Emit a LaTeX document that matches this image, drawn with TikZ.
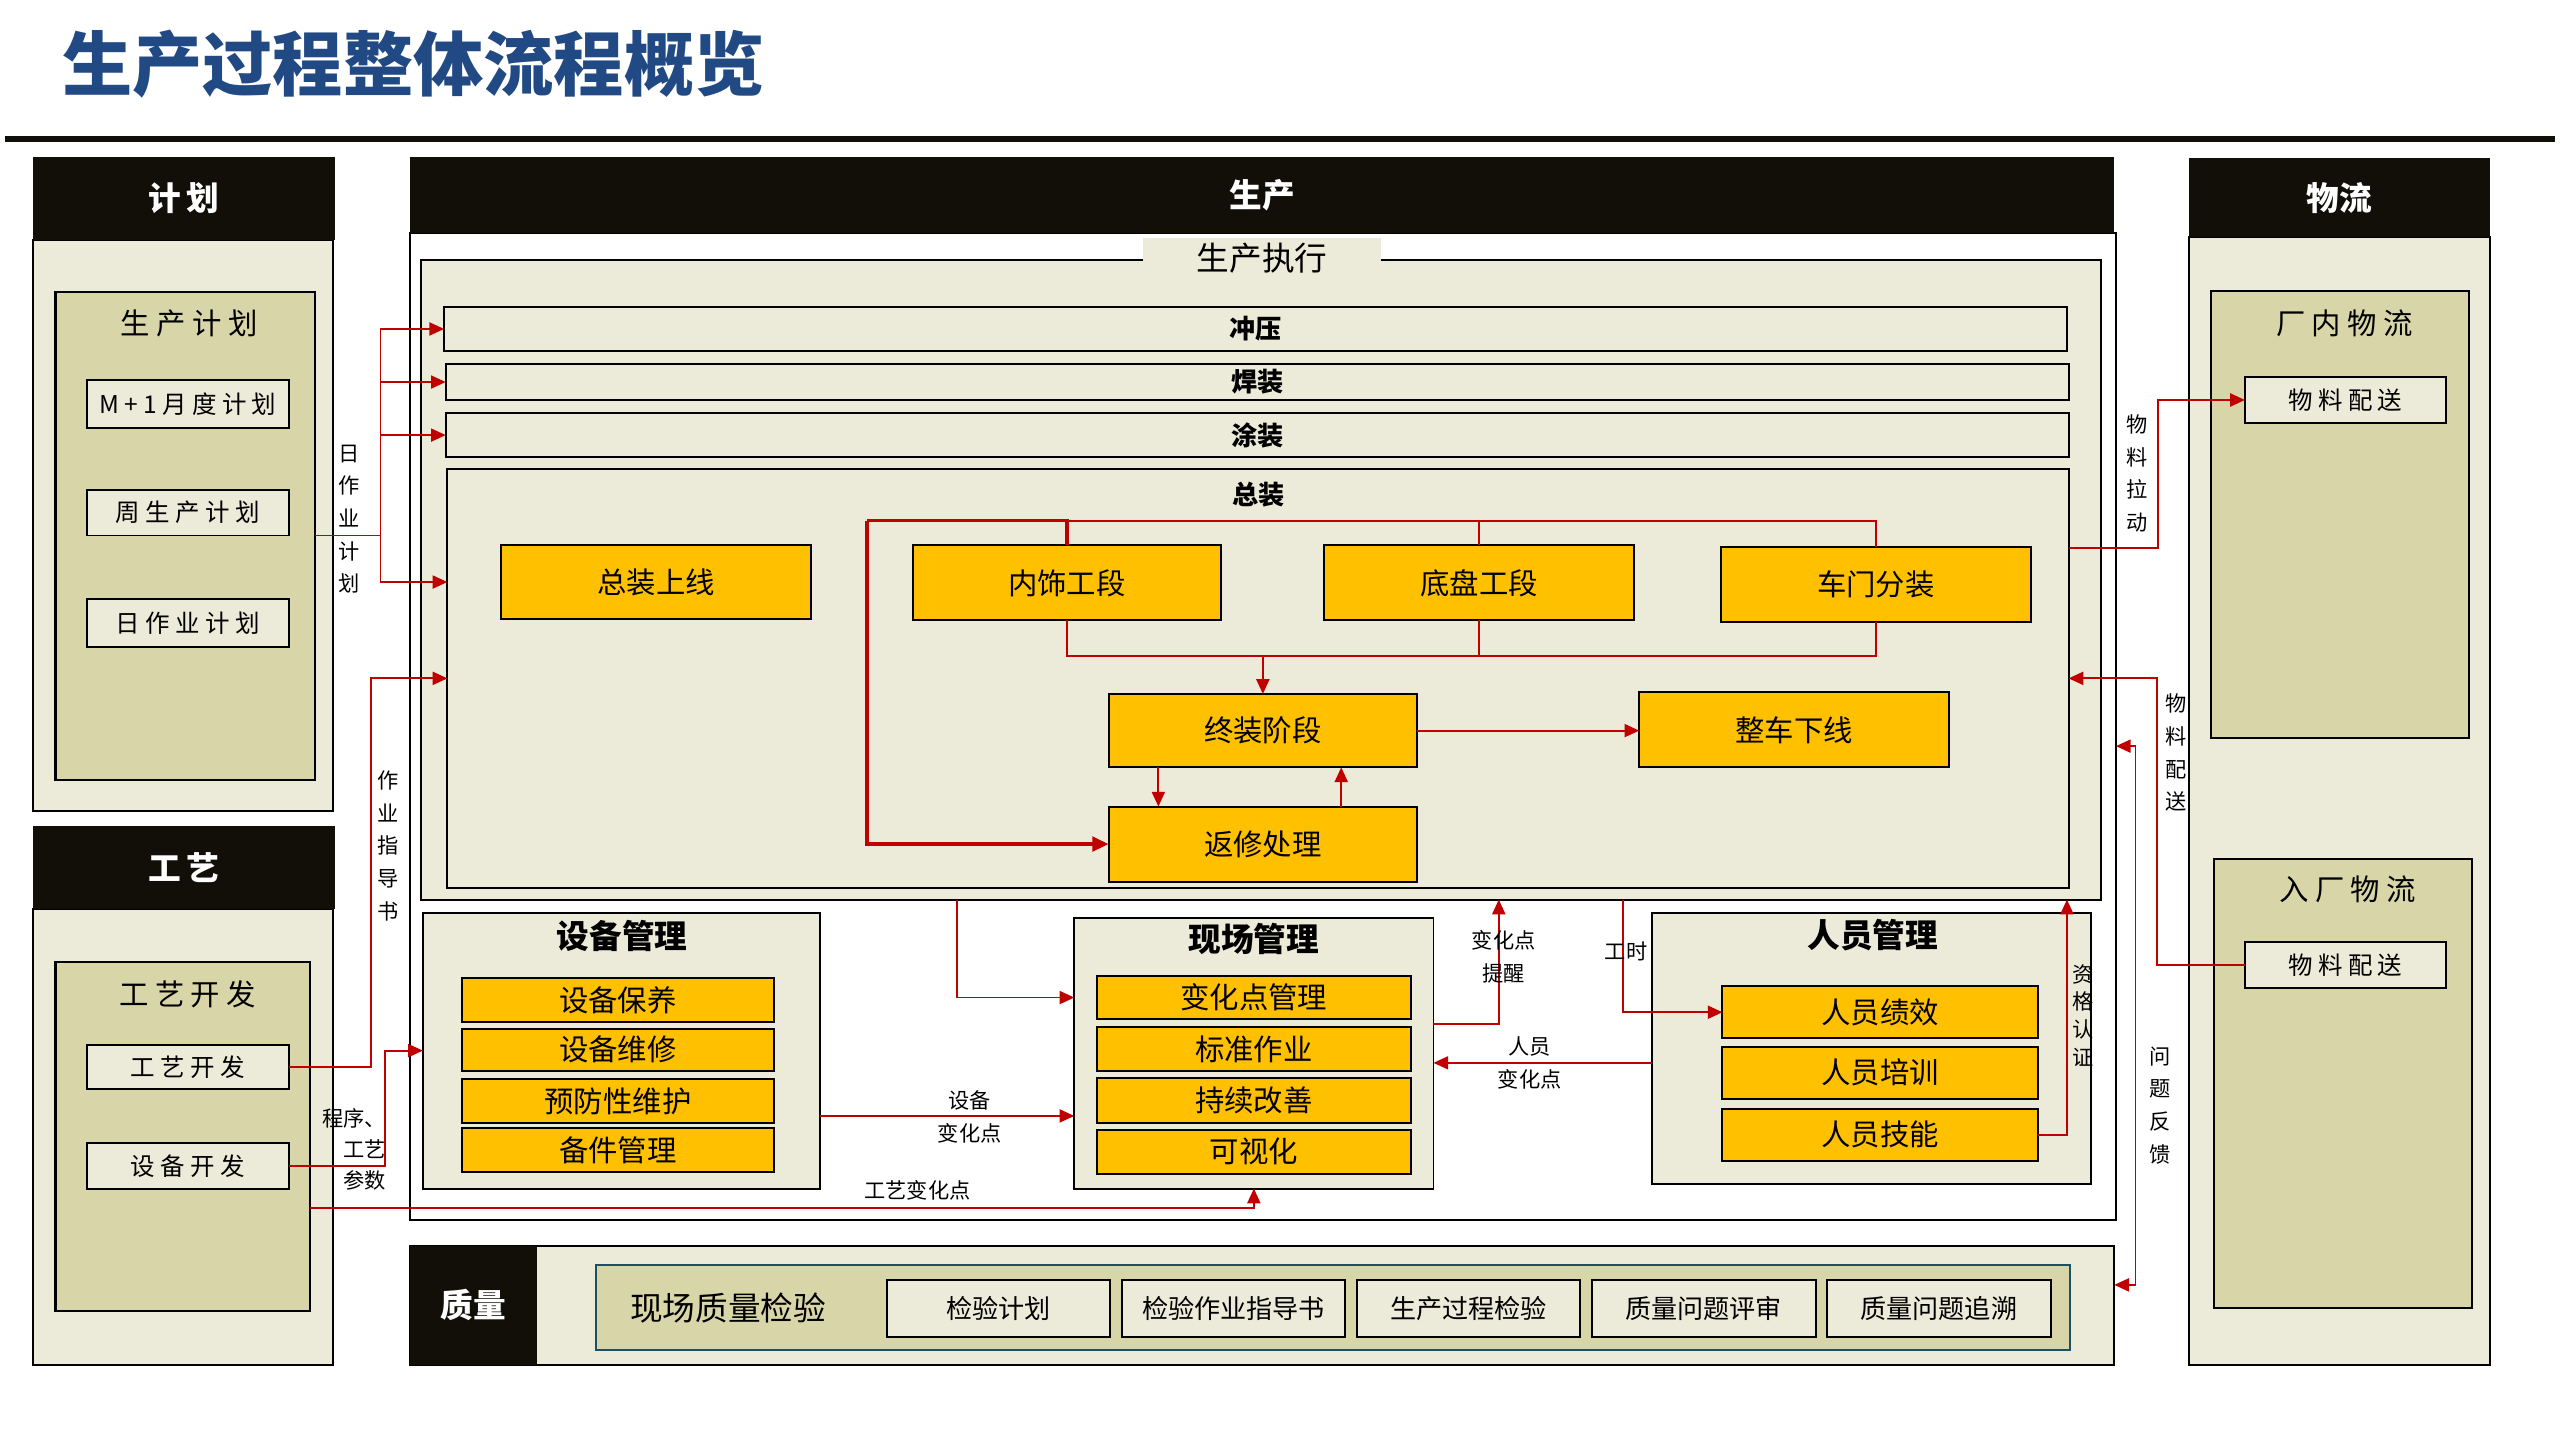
\documentclass[tikz,border=0pt]{standalone}
\usepackage{fontspec}
\newfontfamily\cjk{Noto Sans CJK SC}
\newfontfamily\cjksp[LetterSpace=22]{Noto Sans CJK SC}
\usetikzlibrary{arrows.meta,calc}
\definecolor{beige}{RGB}{236,234,216}
\definecolor{khaki}{RGB}{216,214,168}
\definecolor{hdr}{RGB}{17,15,8}
\definecolor{ylw}{RGB}{255,192,0}
\definecolor{rd}{RGB}{192,0,0}
\definecolor{ttl}{RGB}{33,74,132}
\definecolor{tealb}{RGB}{30,80,95}
\newcommand\fs[1]{\fontsize{#1}{#1}\selectfont}
\newcommand\bx[7]{\node[#2,anchor=north west,minimum width={(#5-(#3))*1pt},minimum height={(#6-(#4))*1pt},inner sep=0pt,outer sep=0pt] (#1) at (#3,#4) {#7};}
\tikzset{
 body/.style={draw=black,fill=beige,line width=1.3pt},
 hd/.style={fill=hdr,text=white,font=\cjk\bfseries\fs{20}},
 inbox/.style={draw=black,fill=khaki,line width=1.3pt},
 ttxt/.style={font=\cjksp\fs{18},inner sep=0pt},
 item/.style={draw=black,fill=beige,line width=1.2pt,font=\cjksp\fs{15}},
 qitem/.style={draw=black,fill=beige,line width=1.2pt,font=\cjk\fs{16}},
 bar/.style={draw=black,fill=beige,line width=1.3pt,font=\cjk\bfseries\fs{16}},
 yb/.style={draw=black,fill=ylw,line width=1.2pt,font=\cjk\fs{18}},
 grp/.style={draw=black,fill=beige,line width=1.2pt},
 gtitle/.style={font=\cjk\bfseries\fs{20},inner sep=0pt},
 rl/.style={draw=rd,line width=1.1pt},
 rthick/.style={draw=rd,line width=2pt},
 ar/.style={rl,-{Triangle[length=9pt,width=8pt]}},
 lbl/.style={font=\cjk\fs{13},inner sep=0pt},
 vl/.style={font=\cjk\fontsize{13}{20}\selectfont,align=center,inner sep=0pt},
}
\begin{document}
\begin{tikzpicture}[x=1pt,y=-1pt]
\useasboundingbox (0,0) rectangle (1568,882);
\fill[white] (0,0) rectangle (1568,882);
% title
\node[anchor=west,text=ttl,font=\cjk\bfseries\fs{43},inner sep=0pt] (title) at (38,39) {生产过程整体流程概览};
\draw[line width=3.5pt,color=hdr] (3,85) -- (1565,85);

% ---------- plan
\bx{jhb}{body}{20}{147}{204}{497}{}
\bx{jhh}{hd}{20}{96}{205}{147}{计\,划}
\bx{jhi}{inbox}{34}{179}{193}{478}{}
\node[ttxt] (jht) at (116,198) {生产计划};
\bx{jh1}{item}{53}{233}{177}{262}{M+1月度计划}
\bx{jh2}{item}{53}{300}{177}{328}{周生产计划}
\bx{jh3}{item}{53}{367}{177}{396}{日作业计划}

% ---------- process
\bx{gyb}{body}{20}{557}{204}{836}{}
\bx{gyh}{hd}{20}{506}{205}{557}{工\,艺}
\bx{gyi}{inbox}{34}{589}{190}{803}{}
\node[ttxt] (gyt) at (115,609) {工艺开发};
\bx{gy1}{item}{53}{640}{177}{667}{工艺开发}
\bx{gy2}{item}{53}{700}{177}{728}{设备开发}

% ---------- production
\bx{scb}{draw=black,fill=white,line width=1.2pt}{251}{143}{1296}{747}{}
\bx{sch}{hd}{251}{96}{1295}{143}{生产}
\bx{exb}{grp}{258}{159}{1287}{551}{}
\bx{ext}{fill=beige,font=\cjk\fs{20}}{700}{146}{846}{170}{生产执行}
\bx{cy}{bar}{272}{188}{1266}{215}{冲压}
\bx{hz}{bar}{273}{223}{1267}{245}{焊装}
\bx{tz}{bar}{273}{253}{1267}{280}{涂装}
\bx{zz}{grp}{274}{287}{1267}{544}{}
\node[font=\cjk\bfseries\fs{16},inner sep=0pt] (zzt) at (771,303) {总装};
\bx{zzsx}{yb}{307}{334}{497}{379}{总装上线}
\bx{ns}{yb}{559}{334}{748}{380}{内饰工段}
\bx{dp}{yb}{811}{334}{1001}{380}{底盘工段}
\bx{cm}{yb}{1054}{335}{1244}{381}{车门分装}
\bx{zzjd}{yb}{679}{425}{868}{470}{终装阶段}
\bx{zcxx}{yb}{1004}{424}{1194}{470}{整车下线}
\bx{fx}{yb}{679}{494}{868}{540}{返修处理}

% assembly connectors
\coordinate (tl) at (531,319);
\coordinate (bl) at (654,402);
\draw[rl] (cm.north) |- (ns.north |- tl);
\draw[rl] (dp.north) -- (dp.north |- tl);
\draw[rthick] (ns.north) -- (ns.north |- tl) -- (tl);
\draw[rthick,-{Triangle[length=10pt,width=9pt]}] (tl) |- (fx.west);
\draw[rl] (ns.south) -- (ns.south |- bl) -| (cm.south);
\draw[rl] (dp.south) -- (dp.south |- bl);
\draw[ar] (zzjd.north |- bl) -- (zzjd.north);
\draw[ar] (zzjd.east) -- (zcxx.west |- zzjd.east);
\draw[ar] ([xshift=-64pt]zzjd.south) -- ([xshift=-64pt]fx.north);
\draw[ar] ([xshift=48pt]fx.north) -- ([xshift=48pt]zzjd.south);

% ---------- management groups
\bx{sb}{grp}{259}{559}{502}{728}{}
\node[gtitle] (sbt) at (381,573) {设备管理};
\bx{sb1}{yb}{283}{599}{474}{626}{设备保养}
\bx{sb2}{yb}{283}{630}{474}{656}{设备维修}
\bx{sb3}{yb}{283}{661}{474}{688}{预防性维护}
\bx{sb4}{yb}{283}{691}{474}{718}{备件管理}

\bx{xc}{grp}{658}{562}{878}{728}{}
\node[gtitle] (xct) at (768,575) {现场管理};
\bx{xc1}{yb}{672}{598}{864}{624}{变化点管理}
\bx{xc2}{yb}{672}{629}{864}{656}{标准作业}
\bx{xc3}{yb}{672}{660}{864}{688}{持续改善}
\bx{xc4}{yb}{672}{692}{864}{719}{可视化}

\bx{ry}{grp}{1012}{559}{1281}{725}{}
\node[gtitle] (ryt) at (1147,573) {人员管理};
\bx{ry1}{yb}{1055}{604}{1248}{636}{人员绩效}
\bx{ry2}{yb}{1055}{641}{1248}{673}{人员培训}
\bx{ry3}{yb}{1055}{679}{1248}{711}{人员技能}

% ---------- logistics
\bx{wlb}{body}{1341}{145}{1525}{836}{}
\bx{wlh}{hd}{1341}{97}{1525}{145}{物流}
\bx{wli1}{inbox}{1354}{178}{1512}{452}{}
\node[ttxt] (wlt1) at (1436,198) {厂内物流};
\bx{wl1}{item}{1375}{231}{1498}{259}{物料配送}
\bx{wli2}{inbox}{1356}{526}{1514}{801}{}
\node[ttxt] (wlt2) at (1438,545) {入厂物流};
\bx{wl2}{item}{1375}{577}{1498}{605}{物料配送}

% ---------- quality
\bx{qa}{body}{251}{763}{1295}{836}{}
\bx{qah}{hd}{251}{763}{329}{836}{质量}
\bx{qai}{draw=tealb,fill=khaki,line width=1.2pt}{365}{775}{1268}{827}{}
\node[font=\cjk\fs{20},inner sep=0pt] (qat) at (446,801) {现场质量检验};
\bx{qa1}{qitem}{543}{784}{680}{819}{检验计划}
\bx{qa2}{qitem}{687}{784}{824}{819}{检验作业指导书}
\bx{qa3}{qitem}{831}{784}{968}{819}{生产过程检验}
\bx{qa4}{qitem}{975}{784}{1112}{819}{质量问题评审}
\bx{qa5}{qitem}{1119}{784}{1256}{819}{质量问题追溯}

% ---------- connectors: plan -> production
\coordinate (jv) at (233,328);
\draw[rl] (jhi.east |- jh2.south) -- (jv);
\draw[ar] (jv) |- (cy.west);
\draw[ar] (jv) |- (hz.west);
\draw[ar] (jv) |- (tz.west);
\draw[ar] (jv) |- (zz.west |- zzsx.west);
\node[vl] (l1) at (214,318) {日\\作\\业\\计\\划};

% process -> production
\draw[ar] (gy1.east) -- ++(50,0) |- (zz.west);
\node[vl] (l2) at (238,518) {作\\业\\指\\导\\书};
\draw[ar] (gy2.east) -- ++(59,0) |- (sb.west);
\node[font=\cjk\fontsize{13}{19}\selectfont,align=right,inner sep=0pt] (l3) at (217,704) {程序、\\工艺\\参数};
\draw[ar] (gyi.east |- 0,740) -| (xc.south);
\node[lbl] (l4) at (562,729) {工艺变化点};

% management connectors
\draw[ar] ($(exb.south west)+(328,0)$) |- (xc.west |- xc1.west);
\draw[ar] ($(sb.east)+(0,40)$) -- (xc.west |- 0,683.5);
\node[vl] (l5) at (594,684) {设备\\变化点};
\draw[ar] ($(xc.east)+(0,-18)$) -| ($(exb.south west)+(660,0)$);
\node[vl] (l6) at (921,586) {变化点\\提醒};
\draw[ar] ($(exb.south west)+(736,0)$) |- (ry1.west);
\node[lbl] (l7) at (996,583) {工时};
\draw[ar] ($(ry.west)+(0,9)$) -- (xc.east |- 0,651);
\node[vl] (l8) at (937,651) {人员\\变化点};
\draw[ar] (ry3.east) -| ($(exb.south west)+(1008,0)$);
\node[font=\cjk\fontsize{13}{17}\selectfont,align=center,inner sep=0pt] (l9) at (1276,622) {资\\格\\认\\证};

% logistics connectors
\draw[ar] ($(zz.east)+(0,-80)$) -- ++(55,0) |- (wl1.west);
\node[vl] (l10) at (1309,290) {物\\料\\拉\\动};
\draw[ar] (wl2.west) -- ++(-54,0) |- (zz.east);
\node[vl] (l11) at (1333,461) {物\\料\\配\\送};
\draw[rl,{Triangle[length=9pt,width=8pt]}-{Triangle[length=9pt,width=8pt]}] ($(scb.south east)+(0,-290)$) -- ++(12,0) |- ($(qa.north east)+(0,24)$);
\node[vl] (l12) at (1323,677) {问\\题\\反\\馈};
\end{tikzpicture}
\end{document}
